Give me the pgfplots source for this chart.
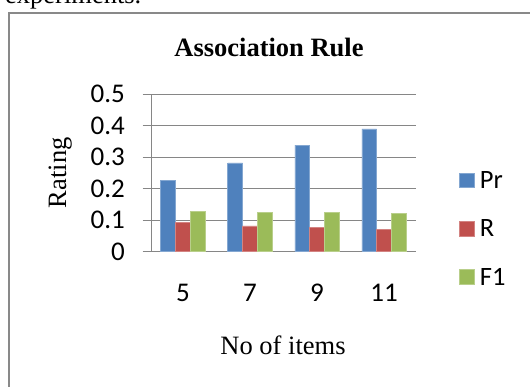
\documentclass[border=0pt]{standalone}
\usepackage{fontspec}
\setmainfont{Liberation Serif}
\newfontfamily\calib{Carlito}
\usepackage{pgfplots}
\pgfplotsset{compat=1.18}
\definecolor{cPr}{HTML}{4F81BD}
\definecolor{cR}{HTML}{C0504D}
\definecolor{cF}{HTML}{9BBB59}
\definecolor{frameGray}{RGB}{137,137,137}
\definecolor{gridGray}{RGB}{134,134,134}
\begin{document}
\begin{tikzpicture}
\useasboundingbox (0pt,0pt) rectangle (530pt,387pt);
\clip (0pt,0pt) rectangle (530pt,387pt);
% page text above the frame (cut off)
\node[anchor=base west, inner sep=0pt, font=\fontsize{26.5}{30}\selectfont] at (5pt,383pt) {experiments.};
% chart frame
\draw[frameGray, line width=2.6pt] (9pt,-10pt) -- (9pt,374pt) -- (560pt,374pt);
\begin{axis}[
  at={(151.7pt,135.3pt)}, anchor=south west,
  scale only axis, width=264pt, height=157.5pt,
  xmin=-0.467, xmax=3.473, ymin=0, ymax=0.5,
  ybar=0pt, bar width=14.8pt,
  axis x line*=bottom, axis y line*=left,
  axis line style={gridGray, line width=1pt},
  ymajorgrids, grid style={gridGray, line width=1pt},
  xtick={0,1,2,3}, xticklabels={5,7,9,11},
  ytick={0,0.1,0.2,0.3,0.4,0.5}, yticklabels={0,0.1,0.2,0.3,0.4,0.5},
  xtick align=inside, ytick align=outside,
  major tick length=9pt,
  xtick style={draw=none},
  ytick style={gridGray, line width=1pt},
  ticklabel style={font=\calib\fontsize{27}{30}\selectfont, inner sep=0pt},
  yticklabel style={anchor=east, xshift=-17.7pt},
  xticklabel style={anchor=base, yshift=-50.3pt},
  legend style={at={(1.165,0.508)}, anchor=north west, draw=none, fill=none,
    inner sep=0pt, outer sep=0pt, row sep=31.3pt, column sep=5.3pt,
    nodes={inner sep=0pt, font=\calib\fontsize{26.5}{30}\selectfont, text height=17pt, text depth=0pt}},
  legend cell align=left,
  legend image code/.code={\fill[#1] (0pt,-7.35pt) rectangle (14.7pt,7.35pt);},
]
\addplot[fill=cPr, draw=cPr!70!white, line width=0.6pt] coordinates {(0,0.227) (1,0.282) (2,0.338) (3,0.390)};
\addplot[fill=cR, draw=cR!70!white, line width=0.6pt] coordinates {(0,0.092) (1,0.082) (2,0.078) (3,0.072)};
\addplot[fill=cF, draw=cF!70!white, line width=0.6pt] coordinates {(0,0.129) (1,0.126) (2,0.124) (3,0.122)};
\legend{Pr,R,F1}
\end{axis}
\node[anchor=base, inner sep=0pt, font=\bfseries\fontsize{26.5}{30}\selectfont] at (269pt,330pt) {Association Rule};
\node[anchor=base, inner sep=0pt, font=\fontsize{26.5}{30}\selectfont] at (283pt,32pt) {No of items};
\node[anchor=base, rotate=90, inner sep=0pt, font=\fontsize{26.5}{30}\selectfont] at (66pt,214.3pt) {Rating};
\end{tikzpicture}
\end{document}
